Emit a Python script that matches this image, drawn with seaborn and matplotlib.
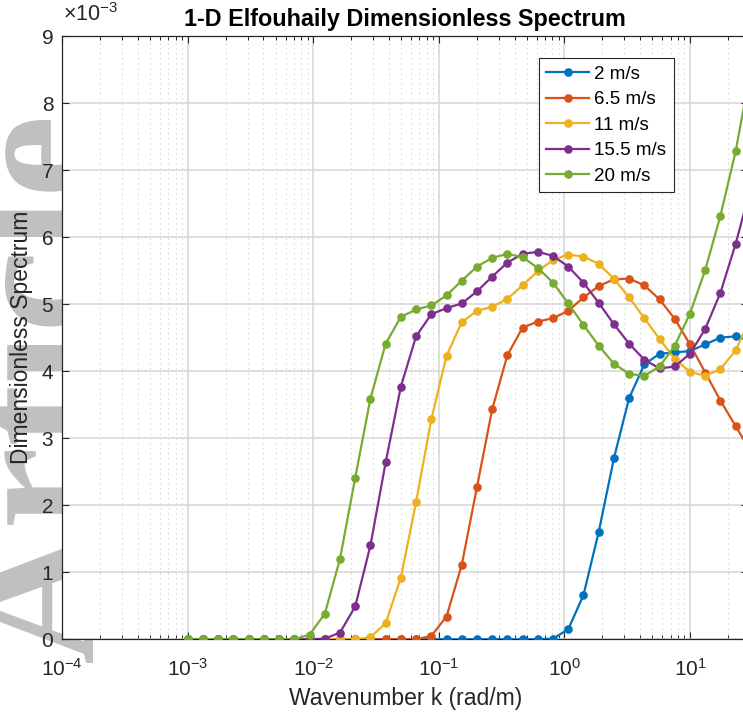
import numpy as np
import pandas as pd
import matplotlib
matplotlib.use("Agg")
import matplotlib.pyplot as plt
import seaborn as sns
from matplotlib.textpath import TextPath
from matplotlib.patches import PathPatch
from matplotlib.font_manager import FontProperties
import matplotlib.transforms as mtransforms
from matplotlib.ticker import LogLocator, FixedLocator

# ---------------- data ----------------
k = [0.001, 0.001322, 0.001748, 0.002310, 0.003054, 0.004037, 0.005337, 0.007055,
     0.009326, 0.01233, 0.01630, 0.02154, 0.02848, 0.03765, 0.04977, 0.06579,
     0.08697, 0.1150, 0.1520, 0.2009, 0.2656, 0.3511, 0.4642, 0.6136, 0.8111,
     1.072, 1.417, 1.874, 2.477, 3.275, 4.329, 5.722, 7.565, 10.0, 13.22,
     17.48, 23.10, 30.54]

labels = ["2 m/s", "6.5 m/s", "11 m/s", "15.5 m/s", "20 m/s"]

s_2 = [0]*24 + [0.01, 0.15, 0.66, 1.60, 2.70, 3.60, 4.10, 4.26, 4.28, 4.30,
                4.40, 4.50, 4.52, 4.45]
s_6p5 = [0]*16 + [0.05, 0.34, 1.11, 2.27, 3.43, 4.24, 4.65, 4.74, 4.79, 4.90,
                  5.10, 5.27, 5.37, 5.38, 5.28, 5.07, 4.78, 4.40, 3.98, 3.56,
                  3.18, 2.80]
s_11 = [0]*12 + [0.03, 0.24, 0.92, 2.05, 3.28, 4.23, 4.73, 4.90, 4.96, 5.08,
                 5.28, 5.49, 5.66, 5.74, 5.71, 5.60, 5.38, 5.10, 4.79, 4.48,
                 4.18, 3.99, 3.93, 4.03, 4.31, 4.80]
s_15p5 = [0]*9 + [0.01, 0.10, 0.49, 1.40, 2.64, 3.77, 4.52, 4.85, 4.94, 5.01,
                  5.19, 5.41, 5.62, 5.75, 5.78, 5.72, 5.56, 5.32, 5.02, 4.70,
                  4.41, 4.17, 4.04, 4.07, 4.26, 4.63, 5.17, 5.90, 6.75]
s_20 = [0]*8 + [0.07, 0.38, 1.20, 2.41, 3.59, 4.41, 4.81, 4.92, 4.98, 5.13,
                5.35, 5.56, 5.69, 5.75, 5.70, 5.54, 5.32, 5.01, 4.69, 4.38,
                4.11, 3.96, 3.93, 4.07, 4.38, 4.86, 5.51, 6.32, 7.28, 8.50]

series = [s_2, s_6p5, s_11, s_15p5, s_20]
colors = ["#0072BD", "#D95319", "#EDB120", "#7E2F8E", "#77AC30"]

yticks = [0, 1, 2, 3, 4, 5, 6, 7, 8, 9]
xticks = [1e-4, 1e-3, 1e-2, 1e-1, 1e0, 1e1]

# ---------------- style ----------------
plt.rcParams['font.family'] = ['Liberation Sans', 'DejaVu Sans']
plt.rcParams['mathtext.fontset'] = 'custom'
plt.rcParams['mathtext.rm'] = 'Liberation Sans'
plt.rcParams['mathtext.it'] = 'Liberation Sans:italic'

W, H = 743, 714
fig = plt.figure(figsize=(W / 100, H / 100), dpi=100)
fig.patch.set_facecolor('white')

# axes placement (pixels)
ax_l, ax_r, ax_t, ax_b = 62.3, 748.0, 36.0, 639.3
ax = fig.add_axes([ax_l / W, (H - ax_b) / H, (ax_r - ax_l) / W, (ax_b - ax_t) / H])
ax.set_facecolor('white')

# watermark (under the axes)
fp = FontProperties(family='Liberation Serif', weight='bold')
tp = TextPath((0, 0), "Article", size=1, prop=fp)
ext = tp.get_extents()
sc = 543.0 / ext.width
tr = (mtransforms.Affine2D().translate(-ext.x0, 0).scale(sc).rotate_deg(90)
      .translate(93, H - 663) + mtransforms.Affine2D().scale(1 / W, 1 / H)
      + fig.transFigure)
wm = PathPatch(tp, transform=tr, facecolor='#c0c0c0', edgecolor='none', zorder=-10)
fig.add_artist(wm)

for vals, c, lab in zip(series, colors, labels):
    df = pd.DataFrame({"k": k, "S": vals})
    sns.lineplot(data=df, x="k", y="S", color=c, marker="o", markersize=6.2,
                 markeredgewidth=0, linewidth=1.6, label=lab, ax=ax, sort=False,
                 zorder=3)

ax.set_xscale('log')
ax.set_xlim(1e-4, 10 ** ((ax_r - ax_l) / 125.54 - 4))
ax.set_ylim(0, 9)
ax.set_yticks(yticks)
ax.xaxis.set_major_locator(FixedLocator(xticks))
ax.xaxis.set_minor_locator(LogLocator(base=10, subs=np.arange(2, 10), numticks=50))

ax.grid(which='major', color='#d6d6d6', linewidth=1.1, linestyle='-', zorder=0)
ax.grid(which='minor', axis='x', color='#cdcdcd', linewidth=0.8,
        linestyle=(0, (1, 3.5)), zorder=0)
ax.set_axisbelow(True)

for sp in ax.spines.values():
    sp.set_color('#262626')
    sp.set_linewidth(0.9)

ax.tick_params(which='both', direction='in', top=True, right=True,
               colors='#262626', labelcolor='#262626')
ax.tick_params(which='major', length=4.8, width=0.8, labelsize=15)
ax.tick_params(which='minor', length=2.8, width=0.7)
ax.tick_params(axis='y', which='major', pad=6.5)
ax.tick_params(axis='x', which='major', pad=13.5)

ax.set_title("1-D Elfouhaily Dimensionless Spectrum", fontsize=16.8,
             fontweight='bold', pad=7, color='black')
ax.set_xlabel("Wavenumber k (rad/m)", fontsize=16.5, color='#262626')
ax.set_ylabel("Dimensionless Spectrum", fontsize=16.5, color='#262626')
ax.xaxis.set_label_coords(0.5, (ax_b - 687) / (ax_b - ax_t))
ax.xaxis.label.set_va('top')
ax.yaxis.set_label_coords((33 - ax_l) / (ax_r - ax_l), 0.5)

fig.text(63 / W, (H - 21) / H, r"$\times$10$^{\mathregular{-3}}$", fontsize=15.5,
         color='#262626', va='baseline', ha='left')

handles, labs = ax.get_legend_handles_labels()
leg = ax.legend(handles, labs, loc='upper right',
                bbox_to_anchor=((674 - ax_l) / (ax_r - ax_l), (ax_b - 58) / (ax_b - ax_t)),
                borderaxespad=0, fontsize=13.5, frameon=True, fancybox=False,
                edgecolor='#262626', framealpha=1, handlelength=2.3,
                handletextpad=0.27, labelspacing=0.45, borderpad=0.4)
leg.get_frame().set_linewidth(0.8)

fig.savefig("out.png", dpi=100)
